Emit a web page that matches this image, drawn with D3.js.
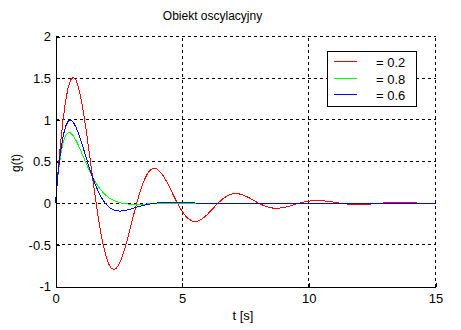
<!DOCTYPE html>
<html>
<head>
<meta charset="utf-8">
<script src="https://cdn.jsdelivr.net/npm/d3@7"></script>
<style>
  html, body { margin: 0; padding: 0; background: #fff; }
  svg { display: block; font-family: "Liberation Sans", Arial, sans-serif; }
</style>
</head>
<body>
<svg id="chart" width="461" height="330"></svg>
<script>
// Impulse responses g(t) of an oscillating second-order object, three damping ratios
const tRed = [0,0.1,0.2,0.3,0.4,0.5,0.6,0.7,0.8,0.9,1.0,1.1,1.2,1.3,1.4,1.5,1.6,1.7,1.8,1.9,
  2.0,2.1,2.2,2.3,2.4,2.5,2.6,2.7,2.8,2.9,3.0,3.1,3.2,3.3,3.4,3.5,3.6,3.7,3.8,3.9,4.0,
  4.2,4.4,4.6,4.8,5.0,5.2,5.4,5.6,5.8,6.0,6.2,6.4,6.6,6.8,7.0,7.2,7.4,7.6,7.8,8.0,
  8.2,8.4,8.6,8.8,9.0,9.2,9.4,9.6,9.8,10.0,10.2,10.4,10.6,10.8,11.0,11.2,11.4,11.6,11.8,12.0,
  12.2,12.4,12.6,12.8,13.0,13.2,13.4,13.6,13.8,14.0,14.2,14.4,14.6,14.8,15.0];
const gRed = [0,0.382,0.720,1.004,1.228,1.388,1.482,1.512,1.482,1.398,1.266,1.096,0.897,0.679,0.452,0.225,0.007,-0.195,-0.374,-0.524,
  -0.644,-0.729,-0.779,-0.796,-0.782,-0.738,-0.669,-0.580,-0.476,-0.362,-0.242,-0.122,-0.007,0.100,0.194,0.274,0.337,0.383,0.410,0.419,0.412,
  0.354,0.253,0.129,0.006,-0.101,-0.177,-0.216,-0.217,-0.187,-0.134,-0.069,-0.004,0.052,0.093,0.113,0.115,0.099,0.071,0.037,0.003,
  -0.027,-0.049,-0.060,-0.060,-0.052,-0.038,-0.020,-0.002,0.014,0.025,0.031,0.032,0.028,0.020,0.011,0.001,-0.007,-0.013,-0.017,-0.017,
  -0.015,-0.011,-0.006,-0.001,0.004,0.007,0.009,0.009,0.008,0.006,0.003,0.000,-0.002,-0.004,-0.005];

const tFast = [0,0.1,0.2,0.3,0.4,0.5,0.6,0.7,0.8,0.9,1.0,1.1,1.2,1.3,1.4,1.5,1.6,1.7,1.8,1.9,
  2.0,2.1,2.2,2.3,2.4,2.5,2.6,2.7,2.8,2.9,3.0,3.2,3.4,3.6,3.8,4.0,4.2,4.4,4.6,4.8,5.0,5.5,6.0,15.0];
const gGreen = [0,0.340,0.575,0.727,0.812,0.846,0.842,0.810,0.759,0.697,0.627,0.556,0.485,0.416,0.353,0.295,0.242,0.196,0.156,0.121,
  0.092,0.067,0.047,0.031,0.019,0.009,0.001,-0.004,-0.008,-0.011,-0.012,-0.013,-0.012,-0.010,-0.008,-0.006,-0.004,-0.003,-0.002,-0.001,0,0,0,0];
const gBlue = [0,0.353,0.619,0.805,0.924,0.984,0.997,0.972,0.917,0.842,0.753,0.656,0.557,0.459,0.365,0.279,0.201,0.133,0.075,0.026,
  -0.013,-0.044,-0.066,-0.081,-0.090,-0.094,-0.094,-0.091,-0.085,-0.077,-0.068,-0.049,-0.032,-0.017,-0.005,0.002,0.007,0.009,0.009,0.008,0.006,0.002,0,0];

const seriesNames = ["= 0.2", "= 0.8", "= 0.6"];
const seriesColors = ["#ff0000", "#00ff00", "#0000ff"];

const xTicks = [0, 5, 10, 15];
const yTicks = [-1, -0.5, 0, 0.5, 1, 1.5, 2];

const titleText = "Obiekt oscylacyjny";
const xLabel = "t [s]";
const yLabel = "g(t)";

const series = [
  { t: tRed, g: gRed },
  { t: tFast, g: gGreen },
  { t: tFast, g: gBlue }
];

const svg = d3.select("#chart");
const x = d3.scaleLinear().domain([0, 15]).range([55.5, 435.5]);
const y = d3.scaleLinear().domain([-1, 2]).range([286.5, 36.5]);

// dashed grid (also forms the top and right edges)
const grid = svg.append("g").attr("shape-rendering", "crispEdges");
grid.selectAll("line.v").data(xTicks.filter(d => d > 0)).join("line")
  .attr("x1", d => x(d)).attr("x2", d => x(d))
  .attr("y1", y(-1)).attr("y2", y(2))
  .attr("stroke", "#000").attr("stroke-dasharray", "3,3");
grid.selectAll("line.h").data(yTicks.filter(d => d > -1)).join("line")
  .attr("y1", d => y(d)).attr("y2", d => y(d))
  .attr("x1", x(0)).attr("x2", x(15))
  .attr("stroke", "#000").attr("stroke-dasharray", "3,3");

// curves
const line = d3.line().x(d => x(d[0])).y(d => y(d[1]));
svg.append("g").selectAll("path").data(series).join("path")
  .attr("d", s => line(s.t.map((t, i) => [t, s.g[i]])))
  .attr("fill", "none")
  .attr("stroke", (s, i) => seriesColors[i])
  .attr("stroke-width", 1)
  .attr("shape-rendering", "crispEdges");

// axes with inward ticks
const xAxis = svg.append("g").attr("transform", `translate(0,${y(-1)})`)
  .call(d3.axisBottom(x).tickValues(xTicks).tickSize(-4).tickPadding(7.5).tickSizeOuter(0));
const yAxis = svg.append("g").attr("transform", `translate(${x(0)},0)`)
  .call(d3.axisLeft(y).tickValues(yTicks).tickSize(-4).tickPadding(4.5).tickSizeOuter(0)
    .tickFormat(d => String(d)));
[xAxis, yAxis].forEach(a => {
  a.attr("shape-rendering", "crispEdges");
  a.selectAll("path, line").attr("stroke", "#000");
  a.selectAll("text").attr("fill", "#000").attr("font-size", "13px")
    .attr("font-family", "'Liberation Sans', Arial, sans-serif");
});

// title and axis labels
svg.append("text").attr("x", 212.5).attr("y", 19.5).attr("text-anchor", "middle")
  .attr("font-size", "12px").text(titleText);
svg.append("text").attr("x", 243).attr("y", 319.5).attr("text-anchor", "middle")
  .attr("font-size", "13px").text(xLabel);
svg.append("text").attr("transform", "translate(19.5,163) rotate(-90)").attr("text-anchor", "middle")
  .attr("font-size", "12px").text(yLabel);

// legend
const legend = svg.append("g");
legend.append("rect").attr("x", 327.5).attr("y", 51.5).attr("width", 89).attr("height", 54.5)
  .attr("fill", "#fff").attr("stroke", "#000").attr("shape-rendering", "crispEdges");
const rows = legend.selectAll("g.row").data(seriesNames).join("g")
  .attr("transform", (d, i) => `translate(0,${61.5 + i * 16.7})`);
rows.append("line").attr("x1", 334).attr("x2", 357).attr("y1", 0).attr("y2", 0)
  .attr("stroke", (d, i) => seriesColors[i]).attr("shape-rendering", "crispEdges");
rows.append("text").attr("x", 376).attr("y", 5.3).attr("font-size", "13px").text(d => d);
</script>
</body>
</html>
